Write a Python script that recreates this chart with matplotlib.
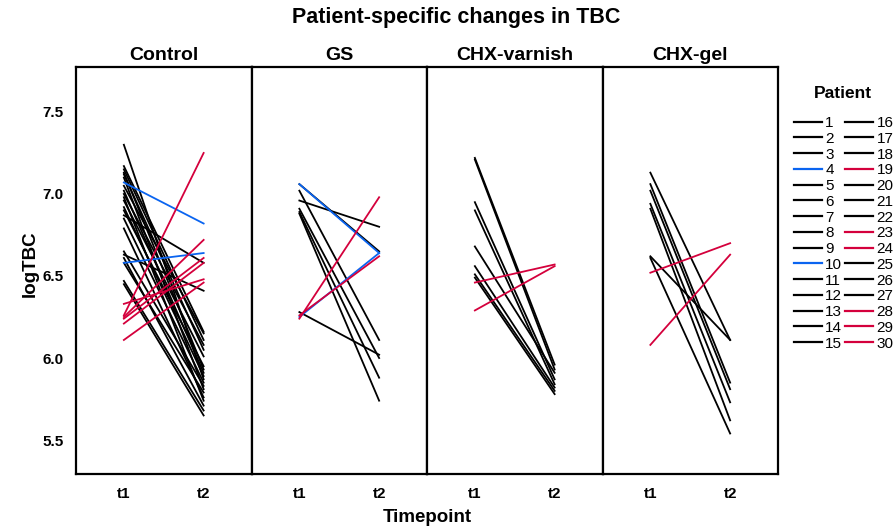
import matplotlib.pyplot as plt
from matplotlib.lines import Line2D

plt.rcParams['font.family'] = ['Liberation Sans', 'DejaVu Sans']

# patients drawn in colour; everyone else is black
blue_patients = [4, 10]
red_patients = [19, 23, 24, 28, 29, 30]
colour_blue = '#0A64F0'
colour_red = '#D4003C'

timepoints = ['t1', 't2']
yticks = [5.5, 6.0, 6.5, 7.0, 7.5]

# Control: every patient
control_ids = [1, 2, 3, 5, 6, 7, 8, 9, 11, 12, 13, 14, 15, 16, 17, 18, 20, 21, 22, 25, 26, 27,
               4, 10, 19, 23, 24, 28, 29, 30]
control_t1 = [7.30, 7.17, 7.15, 7.13, 7.12, 7.10, 7.05, 7.02, 7.00, 6.98, 6.96, 6.92, 6.90, 6.87,
              6.85, 6.79, 6.65, 6.63, 6.61, 6.58, 6.47, 6.45,
              7.07, 6.58, 6.26, 6.33, 6.25, 6.24, 6.21, 6.11]
control_t2 = [5.87, 6.16, 6.11, 5.93, 6.05, 5.81, 6.15, 5.91, 6.08, 5.74, 6.01, 5.89, 5.95, 6.58,
              5.85, 5.76, 5.83, 6.41, 5.71, 5.79, 5.68, 5.65,
              6.82, 6.64, 7.25, 6.48, 6.72, 6.61, 6.58, 6.46]

gs_ids = [1, 2, 3, 5, 6, 7, 8, 4, 10, 19, 23]
gs_t1 = [7.06, 7.02, 6.96, 6.91, 6.89, 6.88, 6.28, 7.06, 6.25, 6.24, 6.26]
gs_t2 = [6.65, 6.11, 6.80, 6.00, 5.88, 5.74, 6.02, 6.64, 6.64, 6.98, 6.62]

varnish_ids = [9, 11, 12, 13, 14, 15, 16, 17, 24, 28]
varnish_t1 = [7.22, 7.21, 6.95, 6.90, 6.68, 6.56, 6.51, 6.49, 6.46, 6.29]
varnish_t2 = [5.96, 5.93, 5.87, 5.84, 5.91, 5.82, 5.80, 5.78, 6.57, 6.56]

gel_ids = [18, 20, 21, 22, 25, 26, 27, 29, 30]
gel_t1 = [7.13, 7.06, 7.02, 6.94, 6.91, 6.62, 6.61, 6.52, 6.08]
gel_t2 = [6.11, 5.85, 5.81, 5.73, 5.62, 6.11, 5.54, 6.70, 6.63]

groups = [('Control', control_ids, control_t1, control_t2),
          ('GS', gs_ids, gs_t1, gs_t2),
          ('CHX-varnish', varnish_ids, varnish_t1, varnish_t2),
          ('CHX-gel', gel_ids, gel_t1, gel_t2)]


def colour_of(pid):
    if pid in blue_patients:
        return colour_blue
    if pid in red_patients:
        return colour_red
    return 'black'


W, H = 896, 530
fig = plt.figure(figsize=(W / 100, H / 100), dpi=100)

panel_w = 175.5
for i, (name, ids, t1, t2) in enumerate(groups):
    ax = fig.add_axes([(76 + i * panel_w) / W, 56 / H, panel_w / W, 407 / H])
    for pid, a, b in zip(ids, t1, t2):
        c = colour_of(pid)
        ax.plot([1, 2], [a, b], color=c, lw=1.3, zorder=3 if c != 'black' else 2)
    ax.set_xlim(0.4, 2.6)
    ax.set_ylim(5.293, 7.774)
    ax.set_xticks([1, 2], timepoints, fontweight='bold', fontsize=11)
    ax.set_yticks(yticks)
    if i == 0:
        ax.set_yticklabels([f'{v:.1f}' for v in yticks], fontweight='bold', fontsize=11)
    else:
        ax.set_yticklabels([])
    ax.tick_params(length=0, pad=9)
    for sp in ax.spines.values():
        sp.set_linewidth(1.6)
    ax.set_title(name, fontweight='bold', fontsize=14, pad=5)

fig.text(456 / W, 1 - 18 / H, 'Patient-specific changes in TBC', ha='center', va='center',
         fontweight='bold', fontsize=15.5)
fig.text(427 / W, 1 - 518 / H, 'Timepoint', ha='center', va='center', fontweight='bold', fontsize=13.5)
fig.text(30 / W, 1 - 264 / H, 'logTBC', ha='center', va='center', rotation=90,
         fontweight='bold', fontsize=13.5)

# legend
fig.text(843 / W, 1 - 93 / H, 'Patient', ha='center', va='center', fontweight='bold', fontsize=12.5)
patients = list(range(1, 31))
handles = [Line2D([], [], color=colour_of(p), lw=1.6) for p in patients]
fig.legend(handles, [str(p) for p in patients], ncol=2, loc='upper left',
           bbox_to_anchor=(794 / W, 1 - 116 / H), frameon=False, fontsize=11,
           handlelength=1.8, handletextpad=0.25, columnspacing=0.2, labelspacing=0.115,
           borderpad=0, borderaxespad=0)

fig.savefig('out.png', dpi=100)
